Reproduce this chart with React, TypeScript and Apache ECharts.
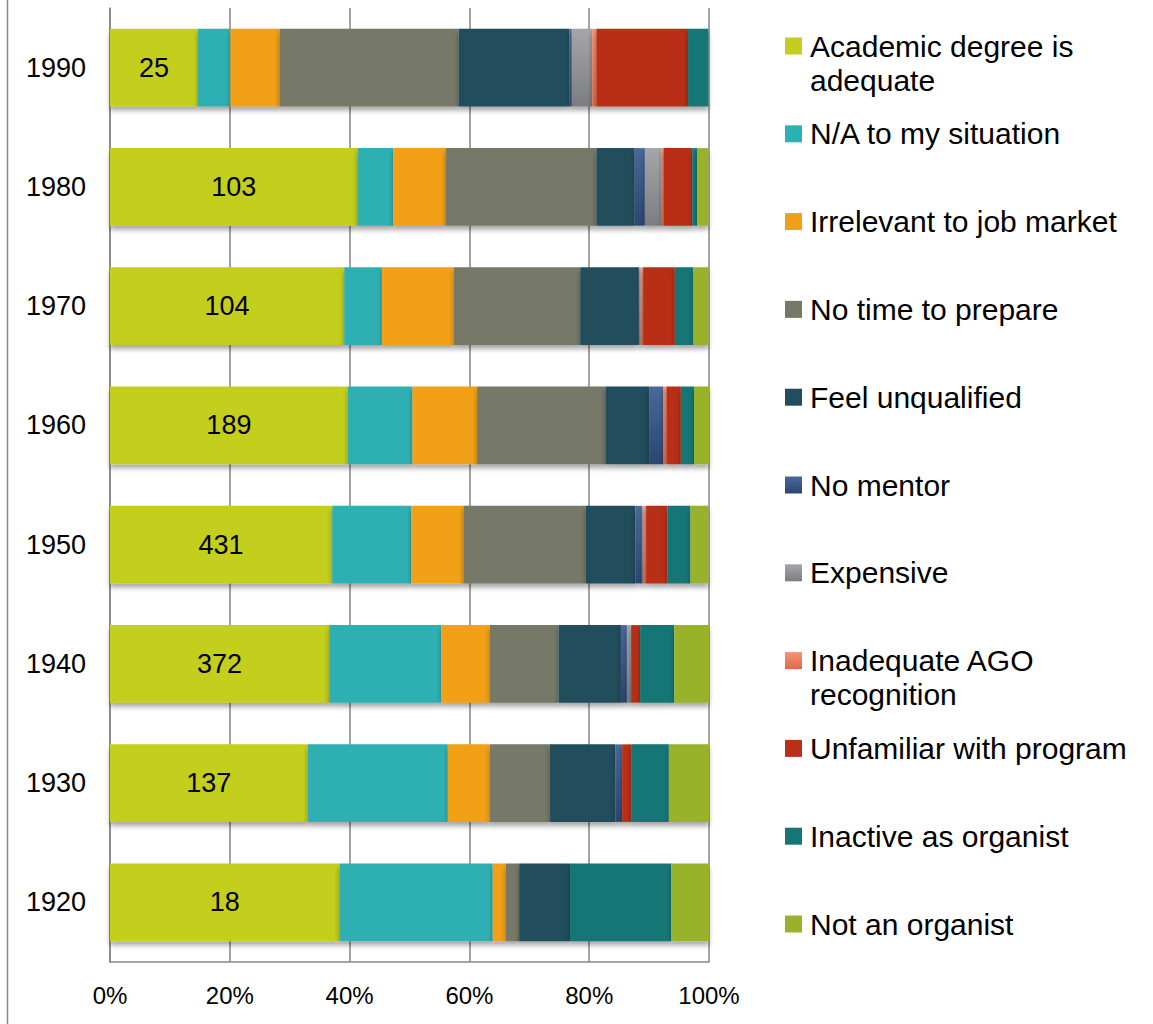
import React, { useEffect, useRef } from "react";
import * as echarts from "echarts";

const categories = ["1990", "1980", "1970", "1960", "1950", "1940", "1930", "1920"];
const respondents = [25, 103, 104, 189, 431, 372, 137, 18];
const xTicks = [0, 20, 40, 60, 80, 100];

const academic = [14.7, 41.3, 39.1, 39.7, 37.1, 36.6, 33.0, 38.3];
const notApplicable = [5.4, 6.0, 6.3, 10.8, 13.2, 18.7, 23.4, 25.6];
const irrelevant = [8.2, 8.7, 12.0, 10.8, 8.7, 8.1, 7.0, 2.2];
const noTime = [29.9, 25.2, 21.1, 21.4, 20.4, 11.5, 10.0, 2.2];
const unqualified = [18.5, 6.4, 9.8, 7.3, 8.3, 10.4, 11.0, 8.5];
const noMentor = [0.4, 1.7, 0, 2.4, 1.1, 1.0, 1.1, 0];
const expensive = [3.4, 2.8, 0.3, 0, 0.3, 0.7, 0, 0];
const inadequate = [0.7, 0.3, 0.4, 0.5, 0.4, 0, 0, 0];
const unfamiliar = [15.3, 4.8, 5.3, 2.4, 3.6, 1.5, 1.5, 0];
const inactive = [3.4, 0.8, 3.1, 2.2, 3.8, 5.7, 6.3, 16.9];
const notOrganist = [0, 1.9, 2.5, 2.5, 3.0, 5.9, 6.7, 6.3];

const seriesNames = [
  "Academic degree is adequate",
  "N/A to my situation",
  "Irrelevant to job market",
  "No time to prepare",
  "Feel unqualified",
  "No mentor",
  "Expensive",
  "Inadequate AGO recognition",
  "Unfamiliar with program",
  "Inactive as organist",
  "Not an organist",
];
const legendLines = [
  ["Academic degree is", "adequate"],
  ["N/A to my situation"],
  ["Irrelevant to job market"],
  ["No time to prepare"],
  ["Feel unqualified"],
  ["No mentor"],
  ["Expensive"],
  ["Inadequate AGO", "recognition"],
  ["Unfamiliar with program"],
  ["Inactive as organist"],
  ["Not an organist"],
];
const seriesData = [
  academic, notApplicable, irrelevant, noTime, unqualified, noMentor,
  expensive, inadequate, unfamiliar, inactive, notOrganist,
];

const FONT = "Liberation Sans";

function grad(top: string, bottom: string) {
  return new echarts.graphic.LinearGradient(0, 0, 0, 1, [
    { offset: 0, color: top },
    { offset: 1, color: bottom },
  ]);
}

function colorFor(i: number): any {
  switch (i) {
    case 0: return "#C4CE1F";
    case 1: return "#2DB0B2";
    case 2: return "#F2A019";
    case 3: return "#767867";
    case 4: return "#234D5C";
    case 5: return grad("#47699A", "#2B4670");
    case 6: return grad("#A5A6A8", "#7C7D80");
    case 7: return grad("#F59275", "#E0694A");
    case 8: return "#B92F17";
    case 9: return "#167676";
    default: return "#98B22C";
  }
}

export default function App() {
  const ref = useRef<HTMLDivElement>(null);
  useEffect(() => {
    if (!ref.current) return;
    const chart = echarts.init(ref.current, undefined, { renderer: "svg" });

    const series = seriesNames.map((name, i) => ({
      name,
      type: "bar",
      stack: "total",
      barCategoryGap: "35%",
      data: seriesData[i],
      itemStyle: {
        color: colorFor(i),
        shadowColor: "rgba(0,0,0,0.35)",
        shadowBlur: 5,
        shadowOffsetY: 4,
      },
      label:
        i === 0
          ? {
              show: true,
              position: "inside",
              color: "#000",
              fontFamily: FONT,
              fontSize: 27,
              formatter: (p: any) => String(respondents[p.dataIndex]),
            }
          : { show: false },
    }));

    const legendStart = 46;
    const legendStep = 87.8;
    const legendGraphics: any[] = [];
    legendLines.forEach((lines, i) => {
      const cy = legendStart + i * legendStep;
      legendGraphics.push({
        type: "rect",
        shape: { x: 785, y: cy - 8.5, width: 17, height: 17 },
        style: { fill: colorFor(i) },
      });
      lines.forEach((ln, j) => {
        legendGraphics.push({
          type: "text",
          x: 810,
          y: cy + j * 34,
          style: {
            text: ln,
            font: `30px "${FONT}"`,
            fill: "#000",
            verticalAlign: "middle",
            align: "left",
          },
        });
      });
    });

    chart.setOption({
      animation: false,
      backgroundColor: "#fff",
      textStyle: { fontFamily: FONT },
      grid: { left: 110, right: 444, top: 8, bottom: 62, containLabel: false },
      xAxis: {
        type: "value",
        min: 0,
        max: 100,
        interval: 20,
        axisLine: { show: true, lineStyle: { color: "#868686", width: 1.5 } },
        axisTick: { show: false },
        splitLine: { show: true, lineStyle: { color: "#868686", width: 1.5 } },
        axisLabel: {
          color: "#000",
          fontSize: 24,
          fontFamily: FONT,
          margin: 21,
          formatter: (v: number) => (xTicks.includes(v) ? `${v}%` : ""),
        },
      },
      yAxis: {
        type: "category",
        data: categories,
        inverse: true,
        axisLine: { show: true, lineStyle: { color: "#868686", width: 1.5 } },
        axisTick: { show: false },
        axisLabel: { color: "#000", fontSize: 27, fontFamily: FONT, margin: 24 },
      },
      series,
      graphic: [
        {
          type: "line",
          shape: { x1: 7.5, y1: 0, x2: 7.5, y2: 1024 },
          style: { stroke: "#868686", lineWidth: 1.5 },
        },
        ...legendGraphics,
      ],
    });
    return () => chart.dispose();
  }, []);

  return (
    <div
      ref={ref}
      style={{ position: "fixed", left: 0, top: 0, width: 1153, height: 1024, background: "#fff" }}
    />
  );
}
